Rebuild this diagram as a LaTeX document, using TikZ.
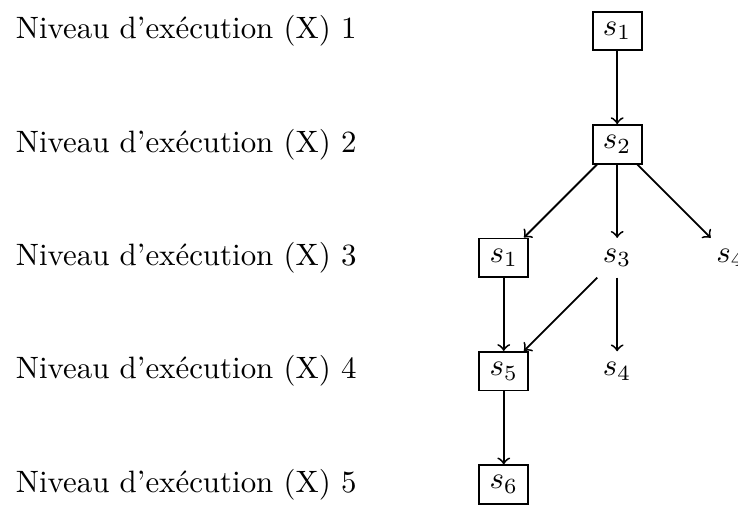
\documentclass[tikz,border=0pt]{standalone}
\usepackage{tikz}
\tikzset{
  etat/.style={draw, semithick},
  libre/.style={draw=none},
  niveau/.style={anchor=west},
  fl/.style={->, semithick}
}
\begin{document}
\begin{tikzpicture}[x=1pt,y=1pt]
  \def\d{36.7}
  \def\cx{199.7}
  \useasboundingbox (0,0) rectangle (238.8,-163.4);
  % niveaux d'execution
  \foreach \i in {1,...,5}
    \node[niveau] (n\i) at (1.6,{-10-(\i-1)*\d}) {Niveau d'exécution (X) \i};
  % etats
  \node[etat] (a) at (\cx,-10) {$s_1$};
  \node[etat] (b) at (\cx,-10-\d) {$s_2$};
  \node[etat] (c) at (\cx-\d,-10-2*\d) {$s_1$};
  \node[libre] (d) at (\cx,-10-2*\d) {$s_3$};
  \node[libre] (e) at (\cx+\d,-10-2*\d) {$s_4$};
  \node[etat] (f) at (\cx-\d,-10-3*\d) {$s_5$};
  \node[libre] (g) at (\cx,-10-3*\d) {$s_4$};
  \node[etat] (h) at (\cx-\d,-10-4*\d) {$s_6$};
  % transitions
  \draw[fl] (a) -- (b);
  \draw[fl] (b) -- (c);
  \draw[fl] (b) -- (d);
  \draw[fl] (b) -- (e);
  \draw[fl] (c) -- (f);
  \draw[fl] (d) -- (f);
  \draw[fl] (d) -- (g);
  \draw[fl] (f) -- (h);
\end{tikzpicture}
\end{document}
